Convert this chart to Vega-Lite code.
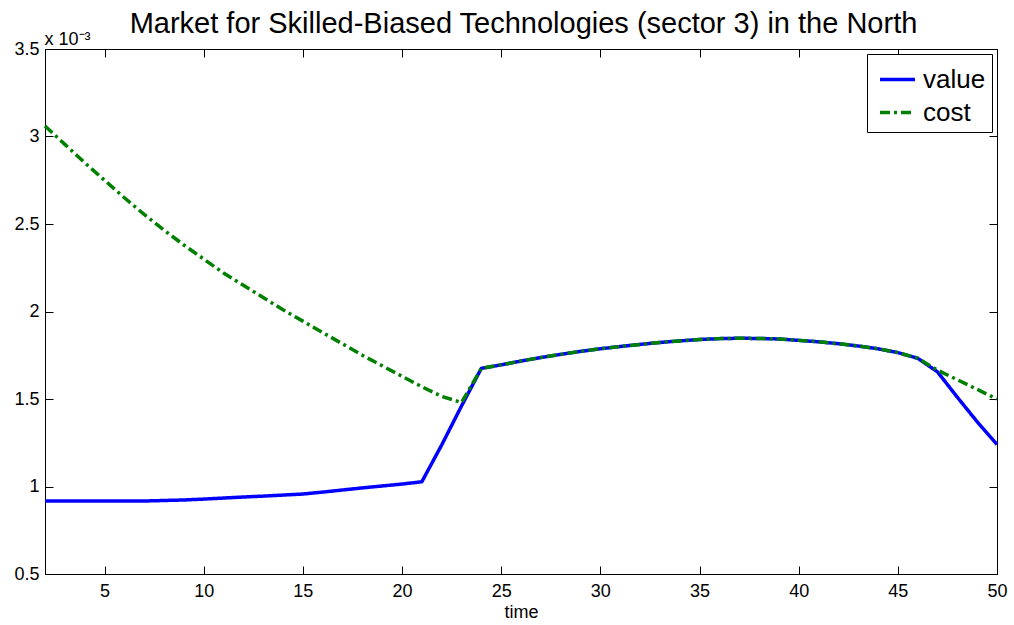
{
  "$schema": "https://vega.github.io/schema/vega-lite/v6.json",
  "width": 952,
  "height": 525,
  "autosize": {"type": "none"},
  "padding": {"left": 45, "top": 49, "right": 17, "bottom": 51},
  "background": "white",
  "config": {"view": {"stroke": "black", "strokeWidth": 1}},
  "data": {"values": [
    {"time": 2, "series": "value", "v": 0.917}, {"time": 3, "series": "value", "v": 0.917}, {"time": 4, "series": "value", "v": 0.917},
    {"time": 5, "series": "value", "v": 0.917}, {"time": 6, "series": "value", "v": 0.917}, {"time": 7, "series": "value", "v": 0.917},
    {"time": 8, "series": "value", "v": 0.920}, {"time": 9, "series": "value", "v": 0.923}, {"time": 10, "series": "value", "v": 0.928},
    {"time": 11, "series": "value", "v": 0.934}, {"time": 12, "series": "value", "v": 0.940}, {"time": 13, "series": "value", "v": 0.945},
    {"time": 14, "series": "value", "v": 0.951}, {"time": 15, "series": "value", "v": 0.957}, {"time": 16, "series": "value", "v": 0.968},
    {"time": 17, "series": "value", "v": 0.980}, {"time": 18, "series": "value", "v": 0.992}, {"time": 19, "series": "value", "v": 1.003},
    {"time": 20, "series": "value", "v": 1.014}, {"time": 21, "series": "value", "v": 1.027}, {"time": 22, "series": "value", "v": 1.237},
    {"time": 23, "series": "value", "v": 1.46}, {"time": 24, "series": "value", "v": 1.675}, {"time": 25, "series": "value", "v": 1.695},
    {"time": 26, "series": "value", "v": 1.717}, {"time": 27, "series": "value", "v": 1.737}, {"time": 28, "series": "value", "v": 1.755},
    {"time": 29, "series": "value", "v": 1.772}, {"time": 30, "series": "value", "v": 1.787}, {"time": 31, "series": "value", "v": 1.800},
    {"time": 32, "series": "value", "v": 1.812}, {"time": 33, "series": "value", "v": 1.823}, {"time": 34, "series": "value", "v": 1.832},
    {"time": 35, "series": "value", "v": 1.840}, {"time": 36, "series": "value", "v": 1.845}, {"time": 37, "series": "value", "v": 1.847},
    {"time": 38, "series": "value", "v": 1.846}, {"time": 39, "series": "value", "v": 1.843}, {"time": 40, "series": "value", "v": 1.835},
    {"time": 41, "series": "value", "v": 1.827}, {"time": 42, "series": "value", "v": 1.816}, {"time": 43, "series": "value", "v": 1.803},
    {"time": 44, "series": "value", "v": 1.787}, {"time": 45, "series": "value", "v": 1.765}, {"time": 46, "series": "value", "v": 1.733},
    {"time": 47, "series": "value", "v": 1.655}, {"time": 48, "series": "value", "v": 1.51}, {"time": 49, "series": "value", "v": 1.37},
    {"time": 50, "series": "value", "v": 1.24},
    {"time": 2, "series": "cost", "v": 3.06}, {"time": 3, "series": "cost", "v": 2.955}, {"time": 4, "series": "cost", "v": 2.85},
    {"time": 5, "series": "cost", "v": 2.75}, {"time": 6, "series": "cost", "v": 2.65}, {"time": 7, "series": "cost", "v": 2.555},
    {"time": 8, "series": "cost", "v": 2.465}, {"time": 9, "series": "cost", "v": 2.38}, {"time": 10, "series": "cost", "v": 2.30},
    {"time": 11, "series": "cost", "v": 2.22}, {"time": 12, "series": "cost", "v": 2.15}, {"time": 13, "series": "cost", "v": 2.08},
    {"time": 14, "series": "cost", "v": 2.01}, {"time": 15, "series": "cost", "v": 1.945}, {"time": 16, "series": "cost", "v": 1.88},
    {"time": 17, "series": "cost", "v": 1.815}, {"time": 18, "series": "cost", "v": 1.75}, {"time": 19, "series": "cost", "v": 1.69},
    {"time": 20, "series": "cost", "v": 1.63}, {"time": 21, "series": "cost", "v": 1.57}, {"time": 22, "series": "cost", "v": 1.515},
    {"time": 23, "series": "cost", "v": 1.48}, {"time": 24, "series": "cost", "v": 1.675}, {"time": 25, "series": "cost", "v": 1.695},
    {"time": 26, "series": "cost", "v": 1.717}, {"time": 27, "series": "cost", "v": 1.737}, {"time": 28, "series": "cost", "v": 1.755},
    {"time": 29, "series": "cost", "v": 1.772}, {"time": 30, "series": "cost", "v": 1.787}, {"time": 31, "series": "cost", "v": 1.800},
    {"time": 32, "series": "cost", "v": 1.812}, {"time": 33, "series": "cost", "v": 1.823}, {"time": 34, "series": "cost", "v": 1.832},
    {"time": 35, "series": "cost", "v": 1.840}, {"time": 36, "series": "cost", "v": 1.845}, {"time": 37, "series": "cost", "v": 1.847},
    {"time": 38, "series": "cost", "v": 1.846}, {"time": 39, "series": "cost", "v": 1.843}, {"time": 40, "series": "cost", "v": 1.835},
    {"time": 41, "series": "cost", "v": 1.827}, {"time": 42, "series": "cost", "v": 1.816}, {"time": 43, "series": "cost", "v": 1.803},
    {"time": 44, "series": "cost", "v": 1.787}, {"time": 45, "series": "cost", "v": 1.765}, {"time": 46, "series": "cost", "v": 1.733},
    {"time": 47, "series": "cost", "v": 1.665}, {"time": 48, "series": "cost", "v": 1.61}, {"time": 49, "series": "cost", "v": 1.555},
    {"time": 50, "series": "cost", "v": 1.50}
  ]},
  "layer": [
    {
      "transform": [{"filter": "datum.series == 'value'"}],
      "mark": {"type": "line", "strokeWidth": 3.5, "strokeCap": "butt", "strokeJoin": "round"},
      "encoding": {
        "x": {"field": "time", "type": "quantitative", "scale": {"domain": [2, 50], "nice": false, "zero": false},
          "axis": {"orient": "bottom", "values": [5, 10, 15, 20, 25, 30, 35, 40, 45, 50], "grid": false, "tickSize": -8, "tickColor": "black", "domainColor": "black",
            "labelFont": "Liberation Sans", "labelFontSize": 18, "labelColor": "black", "labelPadding": 16, "labelFlush": false,
            "title": "time", "titleFont": "Liberation Sans", "titleFontSize": 18, "titleFontWeight": "normal", "titleColor": "black", "titlePadding": 3}},
        "y": {"field": "v", "type": "quantitative", "scale": {"domain": [0.5, 3.5], "nice": false, "zero": false},
          "axis": {"orient": "left", "values": [0.5, 1, 1.5, 2, 2.5, 3, 3.5], "format": "~g", "grid": false, "tickSize": -8, "tickColor": "black", "domainColor": "black",
            "labelFont": "Liberation Sans", "labelFontSize": 18, "labelColor": "black", "labelPadding": 14, "labelFlush": false,
            "title": "x 10⁻³", "titleAngle": 0, "titleAlign": "left", "titleBaseline": "alphabetic", "titleX": -1, "titleY": -5,
            "titleFont": "Liberation Sans", "titleFontSize": 18, "titleFontWeight": "normal", "titleColor": "black"}},
        "color": {"field": "series", "type": "nominal", "scale": {"domain": ["value", "cost"], "range": ["#0000ff", "#008000"]},
          "legend": {"title": null, "orient": "top-right", "offset": 5, "fillColor": "white", "strokeColor": "black", "padding": 6, "rowPadding": 0,
            "labelFont": "Liberation Sans", "labelFontSize": 26, "labelColor": "black", "labelOffset": 6, "symbolOffset": 5, "symbolType": "stroke", "symbolSize": 1225, "symbolStrokeWidth": 3.5}},
        "strokeDash": {"field": "series", "type": "nominal", "scale": {"domain": ["value", "cost"], "range": [[1, 0], [10, 4, 3, 4]]},
          "legend": {"title": null, "orient": "top-right", "offset": 5, "fillColor": "white", "strokeColor": "black", "padding": 6, "rowPadding": 0,
            "labelFont": "Liberation Sans", "labelFontSize": 26, "labelColor": "black", "labelOffset": 6, "symbolOffset": 5, "symbolType": "stroke", "symbolSize": 1225, "symbolStrokeWidth": 3.5}}
      }
    },
    {
      "transform": [{"filter": "datum.series == 'cost'"}],
      "mark": {"type": "line", "strokeWidth": 3.5, "strokeCap": "butt", "strokeJoin": "round"},
      "encoding": {
        "x": {"field": "time", "type": "quantitative", "scale": {"domain": [2, 50], "nice": false, "zero": false},
          "axis": {"orient": "top", "values": [5, 10, 15, 20, 25, 30, 35, 40, 45, 50], "grid": false, "tickSize": -8, "tickColor": "black", "domain": false, "labels": false,
            "title": "Market for Skilled-Biased Technologies (sector 3) in the North", "titleFont": "Liberation Sans", "titleFontSize": 29, "titleFontWeight": "normal", "titleColor": "black",
            "titleAngle": 0, "titleAlign": "center", "titleBaseline": "alphabetic", "titleX": 478, "titleY": -17, "titleLimit": 1000}},
        "y": {"field": "v", "type": "quantitative", "scale": {"domain": [0.5, 3.5], "nice": false, "zero": false},
          "axis": {"orient": "right", "values": [0.5, 1, 1.5, 2, 2.5, 3, 3.5], "grid": false, "tickSize": -8, "tickColor": "black", "domain": false, "labels": false, "title": null}},
        "color": {"field": "series", "type": "nominal", "scale": {"domain": ["value", "cost"], "range": ["#0000ff", "#008000"]},
          "legend": {"title": null, "orient": "top-right", "offset": 5, "fillColor": "white", "strokeColor": "black", "padding": 6, "rowPadding": 0,
            "labelFont": "Liberation Sans", "labelFontSize": 26, "labelColor": "black", "labelOffset": 6, "symbolOffset": 5, "symbolType": "stroke", "symbolSize": 1225, "symbolStrokeWidth": 3.5}},
        "strokeDash": {"field": "series", "type": "nominal", "scale": {"domain": ["value", "cost"], "range": [[1, 0], [10, 4, 3, 4]]},
          "legend": {"title": null, "orient": "top-right", "offset": 5, "fillColor": "white", "strokeColor": "black", "padding": 6, "rowPadding": 0,
            "labelFont": "Liberation Sans", "labelFontSize": 26, "labelColor": "black", "labelOffset": 6, "symbolOffset": 5, "symbolType": "stroke", "symbolSize": 1225, "symbolStrokeWidth": 3.5}}
      }
    }
  ],
  "resolve": {"axis": {"x": "independent", "y": "independent"}}
}
